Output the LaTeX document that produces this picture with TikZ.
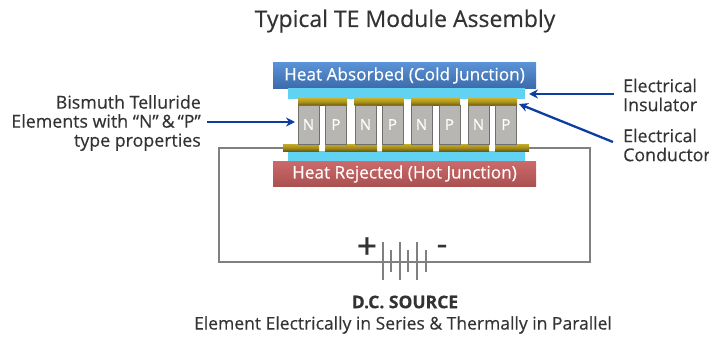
\documentclass[tikz,border=0pt]{standalone}
\usepackage{fontspec}
\setmainfont[FakeBold=0.35]{Open Sans}
\newfontfamily\heavyfont[FakeBold=0]{Open Sans Bold}
\usetikzlibrary{arrows.meta}
\definecolor{arrowblue}{HTML}{0B3EA0}
\definecolor{wiregray}{HTML}{808080}
\definecolor{textgray}{HTML}{333335}
\definecolor{insul}{HTML}{62D2F2}
\definecolor{condtop}{HTML}{C2AC2A}
\definecolor{condmid}{HTML}{A8901A}
\definecolor{condbot}{HTML}{6E5C10}
\definecolor{elemgray}{HTML}{B7B6B3}
\definecolor{elemedge}{HTML}{6F6F6C}
\definecolor{platetop}{HTML}{5A92D6}
\definecolor{platebot}{HTML}{3C6BAA}
\definecolor{redtop}{HTML}{CC6A6A}
\definecolor{redbot}{HTML}{A95050}
\tikzset{
  px/.style={x=1pt,y=-1pt},
  boxbase/.style={inner sep=0pt,outer sep=0pt,anchor=center},
  plate/.style={boxbase,minimum width=263pt,minimum height=25pt,text=white,font=\fontsize{17.2}{20}\selectfont},
  insulator/.style={boxbase,fill=insul,minimum width=237pt,minimum height=#1},
  cond/.style={boxbase,minimum height=#1,top color=condtop,bottom color=condbot,middle color=condmid},
  element/.style={boxbase,fill=elemgray,draw=elemedge,line width=.7pt,minimum width=21pt,minimum height=39pt,text=white,font=\fontsize{15}{15}\selectfont},
  wire/.style={draw=wiregray,line width=2pt},
  batt/.style={draw=wiregray,line width=2.1pt},
  callout/.style={draw=arrowblue,line width=2.3pt,-{Stealth[length=9pt,width=9pt]}},
  label/.style={text=textgray,inner sep=0pt,font=\fontsize{17.8}{19}\selectfont},
}
\begin{document}
\begin{tikzpicture}[px]
\useasboundingbox (0,0) rectangle (709,337);
% circuit
\coordinate (wl) at (283,148);
\coordinate (wr) at (529,148);
\coordinate (wtl) at (219,148);
\coordinate (wtr) at (590,148);
\coordinate (wbl) at (219,261.5);
\coordinate (wbr) at (590,261.5);
\draw[wire] (wl) -- (wtl) -- (wbl) -- (wbr) -- (wtr) -- (wr);
% battery
\foreach \x/\h in {383/19,391/11,400/19,408/11,417/19,426/11}{
  \draw[batt] (\x,261-\h) -- (\x,261+\h);
}
\node[text=textgray,font=\fontsize{36}{36}\selectfont,inner sep=0pt] (plus) at (367,248) {+};
\node[text=textgray,font=\fontsize{33}{33}\selectfont,inner sep=0pt] (minus) at (442,250) {-};
% plates
\node[plate,top color=platetop,bottom color=platebot] (cold) at (404.5,75.5) {Heat Absorbed (Cold Junction)};
\node[plate,top color=redtop,bottom color=redbot] (hot) at (404.5,174) {Heat Rejected (Hot Junction)};
\node[insulator=11pt] (itop) at (406.5,93.5) {};
\node[insulator=10pt] (ibot) at (406.5,156) {};
% top conductors
\foreach \n/\x in {a/322.5,b/379,c/435.5,d/492.5}{
  \node[cond=6.5pt,minimum width=49pt] (ct\n) at (\x,102) {};
}
% bottom conductors
\node[cond=7pt,minimum width=36pt] (cb1) at (301,147.5) {};
\node[cond=7pt,minimum width=52pt] (cb2) at (351,147.5) {};
\node[cond=7pt,minimum width=51pt] (cb3) at (407.5,147.5) {};
\node[cond=7pt,minimum width=50pt] (cb4) at (464,147.5) {};
\node[cond=7pt,minimum width=34pt] (cb5) at (512,147.5) {};
% elements
\foreach \n/\t/\x in {e1/N/308.5,e2/P/336,e3/N/365.5,e4/P/392.5,e5/N/421.5,e6/P/449.5,e7/N/478.5,e8/P/506}{
  \node[element] (\n) at (\x,124.5) {\t};
}
% labels
\node[text=textgray,inner sep=0pt,font=\fontsize{23}{25}\selectfont] (title) at (405,21) {Typical TE Module Assembly};
\node[label,anchor=west,align=left] (linsul) at (623,95) {Electrical\\Insulator};
\node[label,anchor=west,align=left] (lcond) at (623,145) {Electrical\\Conductor};
\node[label,anchor=east,align=right] (lbis) at (201,123) {Bismuth Telluride\hspace{9pt}\\Elements with “N”\,\&\,“P”\\type properties\hspace{9pt}};
\node[label,font=\fontsize{17.5}{19}\selectfont\bfseries] (dc) at (405,302) {D.C. SOURCE};
\node[label,font=\fontsize{17.5}{19}\selectfont] (series) at (403,325) {Element Electrically in Series \& Thermally in Parallel};
% callouts
\coordinate (t1) at (614,94);
\coordinate (t2) at (613,142);
\coordinate (t3) at (207,122);
\coordinate (h1) at (529,94);
\coordinate (h2) at (519,104);
\coordinate (h3) at (295,122);
\draw[callout] (t1) -- (h1);
\draw[callout] (t2) -- (h2);
\draw[callout] (t3) -- (h3);
\end{tikzpicture}
\end{document}
